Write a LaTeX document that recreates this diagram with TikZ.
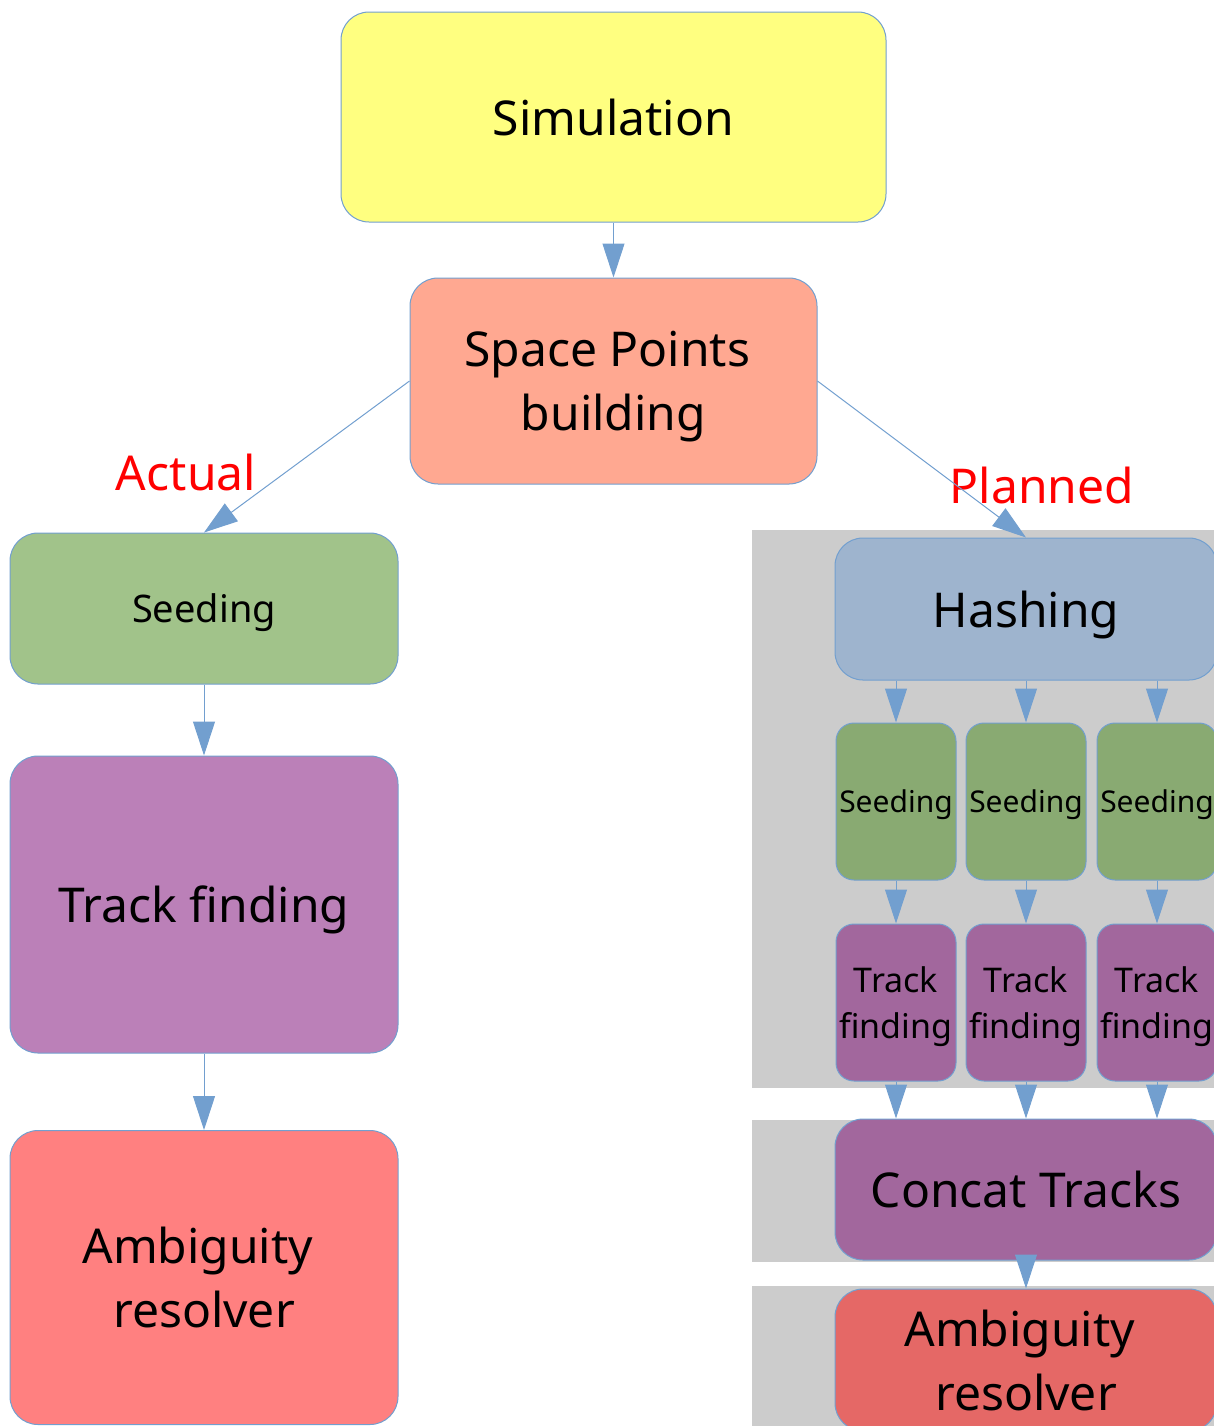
\documentclass[tikz,border=0pt]{standalone}
\usepackage{fontspec}
\setmainfont{Noto Sans}
\usepackage{xcolor}
\usetikzlibrary{arrows.meta}

\definecolor{flowblue}{RGB}{114,159,207}
\definecolor{simyellow}{RGB}{255,255,128}
\definecolor{spsalmon}{RGB}{255,168,145}
\definecolor{seedgreen}{RGB}{161,195,138}
\definecolor{trackpurple}{RGB}{187,128,184}
\definecolor{ambred}{RGB}{255,128,128}
\definecolor{hashblue}{RGB}{158,180,206}
\definecolor{seedgreendk}{RGB}{137,170,114}
\definecolor{trackpurpledk}{RGB}{162,103,157}
\definecolor{ambreddk}{RGB}{229,104,102}
\definecolor{panelgray}{RGB}{204,204,204}

\begin{document}
\begin{tikzpicture}[
    x=0.5pt, y=-0.5pt,
    >={Triangle[length=17pt,width=11pt]},
    stage/.style={draw=flowblue,line width=0.5pt,rounded corners=14pt,
                  align=center,inner sep=0pt,text depth=0pt,
                  font=\fontsize{24}{32}\selectfont},
    small/.style={stage,rounded corners=9pt,minimum width=60pt,minimum height=78.5pt},
    flow/.style={->,flowblue,line width=0.5pt},
    lbl/.style={text=red,font=\fontsize{24}{30}\selectfont},
    panel/.style={fill=panelgray},
  ]
  \useasboundingbox (0,0) rectangle (1214,1426);
  \clip (0,0) rectangle (1214,1426);

  % --- grey panels behind the planned chain
  \fill[panel] (752,530) rectangle (1214,1088);
  \fill[panel] (752,1120) rectangle (1214,1262);
  \fill[panel] (752,1286) rectangle (1214,1426);

  % --- common start
  \node[stage,fill=simyellow,minimum width=272.5pt,minimum height=105pt]
    (sim) at (613.5,117) {Simulation};
  \node[stage,fill=spsalmon,minimum width=203.5pt,minimum height=103pt]
    (sp) at (613.5,381) {Space Points\kern0.26em\\building};

  % --- actual chain (left)
  \node[stage,fill=seedgreen,minimum width=194pt,minimum height=75.5pt,
        font=\fontsize{19}{24}\selectfont] (seed) at (204,608.5) {Seeding};
  \node[stage,fill=trackpurple,minimum width=194pt,minimum height=148.5pt]
    (track) at (204,904.5) {Track finding};
  \node[stage,fill=ambred,minimum width=194pt,minimum height=147pt]
    (amb) at (204,1277.5) {Ambiguity\kern0.26em\\resolver};

  % --- planned chain (right)
  \node[stage,fill=hashblue,minimum width=191pt,minimum height=71pt]
    (hash) at (1026,609) {Hashing};
  \node[small,fill=seedgreendk,font=\fontsize{15}{20}\selectfont] (s1) at (896,801.5) {Seeding};
  \node[small,fill=seedgreendk,font=\fontsize{15}{20}\selectfont] (s2) at (1026,801.5) {Seeding};
  \node[small,fill=seedgreendk,font=\fontsize{15}{20}\selectfont] (s3) at (1157,801.5) {Seeding};
  \node[small,fill=trackpurpledk,font=\fontsize{17}{23}\selectfont] (t1) at (896,1002.5) {Track\\finding};
  \node[small,fill=trackpurpledk,font=\fontsize{17}{23}\selectfont] (t2) at (1026,1002.5) {Track\\finding};
  \node[small,fill=trackpurpledk,font=\fontsize{17}{23}\selectfont] (t3) at (1157,1002.5) {Track\\finding};
  \node[stage,fill=trackpurpledk,minimum width=191pt,minimum height=70.5pt]
    (concat) at (1026,1189.5) {Concat Tracks};
  \node[stage,fill=ambreddk,minimum width=191pt,minimum height=71pt]
    (amb2) at (1026,1360) {Ambiguity\kern0.26em\\resolver};

  % --- branch labels
  \node[lbl] (actual) at (186,472) {Actual};
  \node[lbl] (planned) at (1042,485) {Planned};

  % --- connectors
  \draw[flow] (sim) -- (sp);
  \draw[flow] (sp.west) -- (seed.north);
  \draw[flow] (sp.east) -- (hash.north);
  \draw[flow] (seed) -- (track);
  \draw[flow] (track) -- (amb);
  \foreach \s/\t in {s1/t1,s2/t2,s3/t3}{
    \draw[flow] (\s.north |- hash.south) -- (\s.north);
    \draw[flow] (\s) -- (\t);
    \draw[flow] (\t.south) -- (\t.south |- concat.north);
  }
  \draw[flow] (concat) -- (amb2);

\end{tikzpicture}
\end{document}
